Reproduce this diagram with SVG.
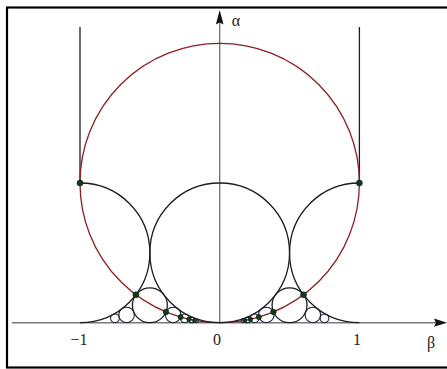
<svg xmlns="http://www.w3.org/2000/svg" width="447" height="369" viewBox="0 0 447 369">
<style>
.frame{fill:none;stroke:#000;stroke-width:2.2}
.axis{stroke:#7a7a7a;stroke-width:1.4;fill:none}
.red{fill:none;stroke:#8a1f24;stroke-width:1.3}
.blk{fill:none;stroke:#1c1c1c;stroke-width:1.3}
.ford{fill:none;stroke:#1e2236;stroke-width:1.1}
.dot{fill:#123a1a;stroke:#0a1f0e;stroke-width:0.6}
.lbl{font-family:"Liberation Serif","Times New Roman",serif;font-size:16px;fill:#222}
</style>
<rect x="7" y="7.5" width="450" height="360" class="frame"/>
<g id="connectors">
<line x1="12" y1="322.7" x2="437" y2="322.7" class="axis" stroke-width="1.8"/>
<polygon points="447,322.7 434,318.6 436,322.7 434,326.8" fill="#111"/>
<line x1="219.7" y1="323" x2="219.7" y2="22" class="axis" stroke="#555" stroke-width="1.1"/>
<polygon points="219.7,10 215.9,24.5 219.7,22.5 223.5,24.5" fill="#111"/>
<line x1="80" y1="27" x2="80" y2="183" class="blk" stroke-width="1.1"/>
<line x1="359.4" y1="27" x2="359.4" y2="183" class="blk" stroke-width="1.1"/>
</g>
<g id="outer-circle"><circle cx="219.7" cy="183" r="139.7" class="red"/></g>
<g id="center-circle"><circle cx="219.7" cy="252.85" r="69.85" class="blk"/></g>
<g id="left-arc"><path d="M80,183 A69.85,69.85 0 0 1 80,322.7" class="blk"/></g>
<g id="right-arc"><path d="M359.4,183 A69.85,69.85 0 0 0 359.4,322.7" class="blk"/></g>
<g id="ford-circles">
<circle cx="149.85" cy="305.24" r="17.46" class="blk"/>
<circle cx="289.55" cy="305.24" r="17.46" class="blk"/>
<circle cx="126.57" cy="314.94" r="7.76" class="ford"/>
<circle cx="173.13" cy="314.94" r="7.76" class="ford"/>
<circle cx="266.27" cy="314.94" r="7.76" class="ford"/>
<circle cx="312.83" cy="314.94" r="7.76" class="ford"/>
<circle cx="114.93" cy="318.33" r="4.37" class="ford"/>
<circle cx="184.78" cy="318.33" r="4.37" class="ford"/>
<circle cx="254.63" cy="318.33" r="4.37" class="ford"/>
<circle cx="324.48" cy="318.33" r="4.37" class="ford"/>
<circle cx="191.76" cy="319.91" r="2.79" class="ford"/>
<circle cx="247.64" cy="319.91" r="2.79" class="ford"/>
<circle cx="196.42" cy="320.76" r="1.94" class="ford"/>
<circle cx="242.98" cy="320.76" r="1.94" class="ford"/>
</g>
<g id="tangency-points">
<circle cx="80" cy="183" r="3" class="dot"/>
<circle cx="359.4" cy="183" r="3" class="dot"/>
<circle cx="135.88" cy="294.76" r="3" class="dot"/>
<circle cx="303.52" cy="294.76" r="3" class="dot"/>
<circle cx="165.97" cy="311.95" r="2.8" class="dot"/>
<circle cx="273.43" cy="311.95" r="2.8" class="dot"/>
<circle cx="180.58" cy="317.11" r="2.6" class="dot"/>
<circle cx="258.82" cy="317.11" r="2.6" class="dot"/>
<circle cx="189.03" cy="319.29" r="2.3" class="dot"/>
<circle cx="250.37" cy="319.29" r="2.3" class="dot"/>
<circle cx="194.51" cy="320.41" r="2" class="dot"/>
<circle cx="244.89" cy="320.41" r="2" class="dot"/>
</g>
<g id="labels">
<text x="79" y="345" class="lbl" text-anchor="middle">−1</text>
<text x="217" y="345" class="lbl" text-anchor="middle">0</text>
<text x="357" y="345" class="lbl" text-anchor="middle">1</text>
<text x="431" y="348" class="lbl" text-anchor="middle">β</text>
<text x="236" y="26" class="lbl" text-anchor="middle">α</text>
</g>
</svg>
